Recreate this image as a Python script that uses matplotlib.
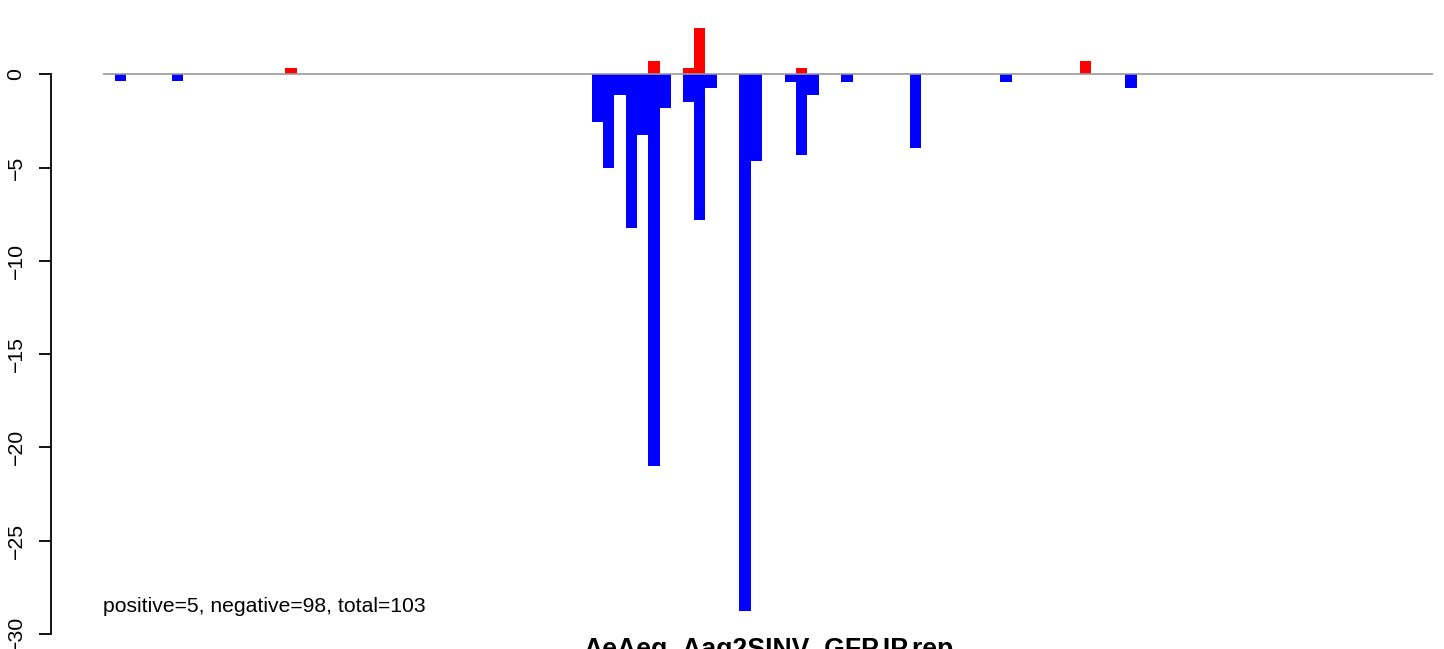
import matplotlib
matplotlib.use("Agg")
import matplotlib.pyplot as plt

plt.rcParams['font.family'] = ['Liberation Sans', 'DejaVu Sans']

# bin index (left edge) and value for each signed bar
pos_bins = [15, 47, 50, 51, 60, 85]
pos_vals = [0.34, 0.71, 0.36, 2.50, 0.33, 0.71]

neg_bins = [0, 5, 42, 43, 44, 45, 46, 47, 48, 50, 51, 52,
            55, 56, 59, 60, 61, 64, 70, 78, 89]
neg_vals = [-0.38, -0.38, -2.54, -5.01, -1.11, -8.24, -3.25, -21.0, -1.79,
            -1.47, -7.81, -0.72, -28.8, -4.65, -0.40, -4.33, -1.11, -0.40,
            -3.94, -0.42, -0.72]

yticks = [0, -5, -10, -15, -20, -25, -30]
title = "AeAeg_Aag2SINV_GFP.IP.rep"
stats = "positive=5, negative=98, total=103"

W, H = 1444, 649
fig = plt.figure(figsize=(W / 100, H / 100), dpi=100)
ax = fig.add_axes([103 / W, 1 - 634.7 / H, (1433 - 103) / W, (634.7 - 4.4) / H])

ax.bar(neg_bins, neg_vals, width=1, align='edge', color='#0000FF', linewidth=0)
ax.bar(pos_bins, pos_vals, width=1, align='edge', color='#FF0000', linewidth=0)
ax.axhline(0, color='#999999', lw=1.2, zorder=3)

ax.set_xlim(-1.057, 116.12)
ax.set_ylim(-30.05, 3.75)

for s in ['top', 'right', 'bottom']:
    ax.spines[s].set_visible(False)
ax.spines['left'].set_position(('outward', 37.7))
ax.spines['left'].set_bounds(-30, 0)
ax.spines['left'].set_linewidth(1.3)
ax.set_xticks([])
ax.set_yticks(yticks)
ax.set_yticklabels([str(t).replace('-', '\u2212') for t in yticks],
                   rotation=90, va='center', fontsize=15.3)
ax.tick_params(axis='y', length=8.6, width=1.3, pad=9.5)

ax.text(0, 0.0365, stats, transform=ax.transAxes, fontsize=15.2,
        ha='left', va='baseline')
# title sits below the plot and is partly cut by the image edge, as in the original
fig.text(768 / W, 1 - 657 / H, title, fontsize=19.2, fontweight='bold',
         ha='center', va='baseline')

fig.savefig('out.png', dpi=100)
